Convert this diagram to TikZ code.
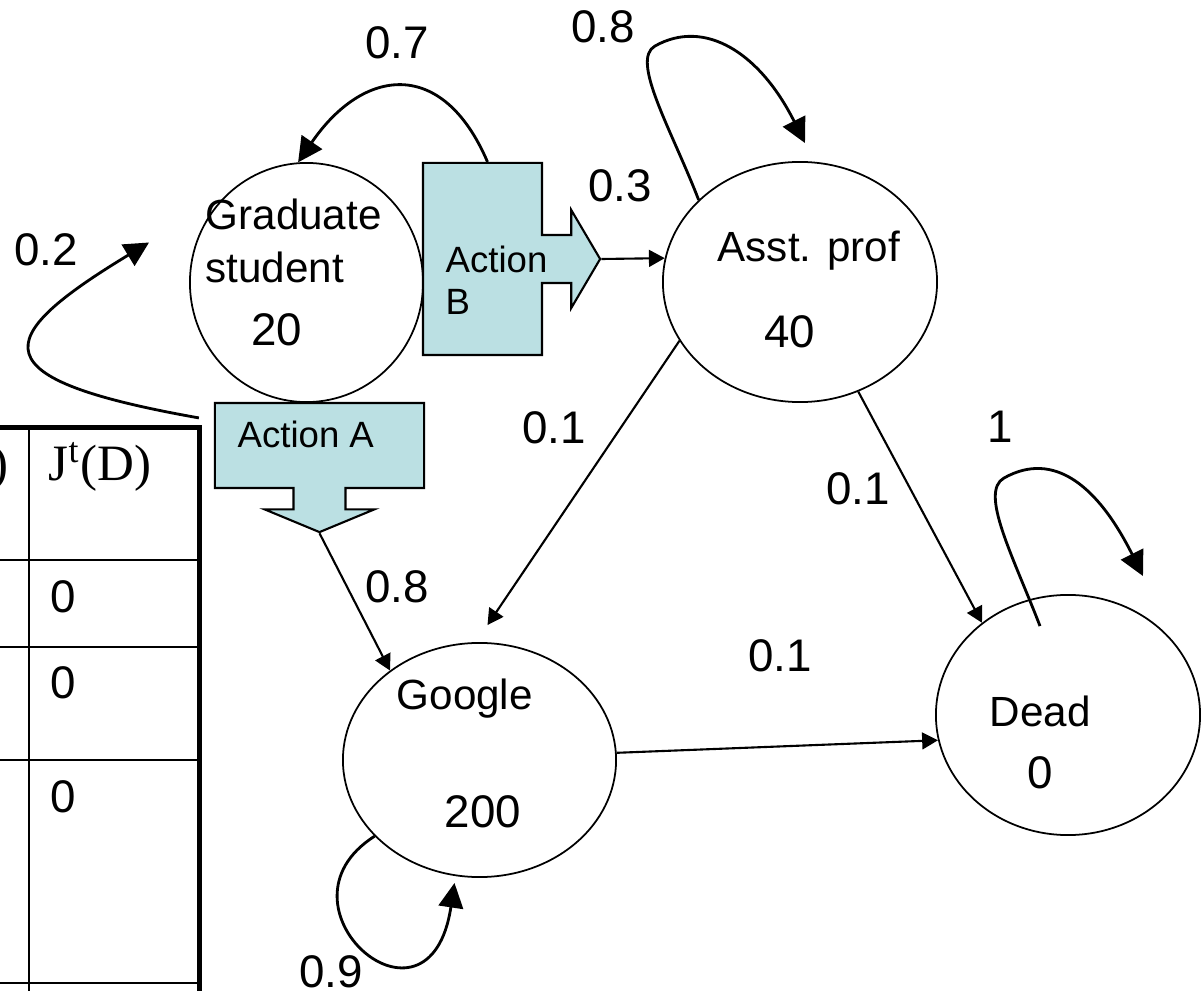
\documentclass[tikz,border=0pt]{standalone}
\usepackage{fontspec}
\setmainfont{Liberation Sans}
\newfontfamily\tabfont{Liberation Serif}
\usetikzlibrary{arrows.meta,shapes.geometric,shapes.arrows}
\definecolor{actfill}{HTML}{BBE0E3}
\tikzset{
  state/.style={draw, ellipse, line width=0.5pt, inner sep=0pt},
  actbox/.style={draw, arrow box, fill=actfill, line width=0.6pt, inner sep=0pt},
  nametext/.style={inner sep=0pt, font=\fontsize{12}{14}\selectfont},
  numtext/.style={inner sep=0pt, font=\fontsize{13}{15}\selectfont},
  acttext/.style={inner sep=0pt, font=\fontsize{10.4}{12}\selectfont},
  headtext/.style={inner sep=0pt, font=\tabfont\fontsize{14.5}{16}\selectfont},
  edge/.style={-{Triangle[length=4.5pt, width=4.8pt]}, line width=0.6pt},
  loopedge/.style={-{Triangle[length=7pt, width=7pt]}, line width=0.8pt},
  tabline/.style={line width=0.5pt},
  tabborder/.style={line width=1.4pt}
}
\begin{document}
\begin{tikzpicture}[x=0.01cm, y=-0.01cm]
\useasboundingbox (0,0) rectangle (1202,991);

% table (cut off at the left)
\draw[tabline] (-10,560) -- (199,560);
\draw[tabline] (-10,647) -- (199,647);
\draw[tabline] (-10,760) -- (199,760);
\draw[tabline] (-10,983) -- (199,983);
\draw[tabline] (29,427) -- (29,1000);
\draw[tabborder] (-10,427.5) -- (199.5,427.5) -- (199.5,1000);
\node[headtext, anchor=base east] (hdprev) at (9,481) {)};
\node[headtext, anchor=base west] (hdD) at (48,481) {J\textsuperscript{t}(D)};
\node[numtext] (d1) at (63,597) {0};
\node[numtext] (d2) at (63,683) {0};
\node[numtext] (d3) at (63,797) {0};

% states
\node[state, minimum width=2.33cm, minimum height=2.39cm] (gs) at (306.5,282.5) {};
\node[state, minimum width=2.74cm, minimum height=2.40cm] (asst) at (800,282) {};
\node[state, minimum width=2.73cm, minimum height=2.34cm] (google) at (479.5,760) {};
\node[state, minimum width=2.64cm, minimum height=2.40cm] (dead) at (1068,715) {};
\node[nametext, anchor=base west] (gsl1) at (205,230) {Graduate};
\node[nametext, anchor=base west] (gsl2) at (205,283) {student};
\node[numtext] (gsv) at (277,330) {20};
\node[nametext, anchor=base west] (asstl) at (717,262) {Asst. prof};
\node[numtext] (asstv) at (790,332) {40};
\node[nametext, anchor=base west] (googlel) at (396,710) {Google};
\node[numtext] (googlev) at (483,812) {200};
\node[nametext, anchor=base west] (deadl) at (989,726) {Dead};
\node[numtext] (deadv) at (1040,773) {0};

% actions
\node[actbox, arrow box arrows={east:0.57cm}, arrow box shaft width=0.48cm,
  arrow box head extend=0.25cm, arrow box tip angle=119,
  minimum width=1.19cm, minimum height=1.92cm] (actB) at (482.5,259) {};
\node[actbox, arrow box arrows={south:0.43cm}, arrow box shaft width=0.52cm,
  arrow box head extend=0.29cm, arrow box tip angle=135,
  minimum width=2.09cm, minimum height=0.85cm] (actA) at (319.5,445.5) {};
\node[acttext, anchor=base west] (actBl1) at (445,273) {Action};
\node[acttext, anchor=base west] (actBl2) at (445,315) {B};
\node[acttext, anchor=base west] (actAl) at (237,448) {Action A};

% transitions
\draw[loopedge] ([shift={(5,0)}]actB.north) .. controls +(-45,-105) and +(65,-95) .. (gs.94);
\draw[loopedge] ([shift={(-15,16)}]actA.north west) .. controls +(-220,-39) and +(-160,97) .. ([shift={(-40,-40)}]gs.west);
\draw[edge] (actB.east arrow tip) -- (asst.170);
\draw[edge] (actA.south arrow tip) -- (google.135);
\draw[loopedge] (asst.141) .. controls +(-27,-70) and +(-25,14) .. (655,46)
  .. controls +(50,-28) and +(-45,-90) .. ([shift={(5,-18)}]asst.north);
\draw[edge] (asst.206) -- ([shift={(8,-17)}]google.north);
\draw[edge] (asst.298) -- (dead.133);
\draw[edge] (google.3) -- (dead.191);
\draw[loopedge] (google.216) .. controls +(-110,70) and +(-25,167) .. ([shift={(-25,123)}]google.center);
\draw[loopedge] ([shift={(-28,32)}]dead.north) .. controls +(-27,-70) and +(-25,14) .. (1004,478)
  .. controls +(50,-28) and +(-45,-90) .. ([shift={(75,-18)}]dead.north);

% probabilities
\node[numtext] (p07) at (397,43) {0.7};
\node[numtext] (p08a) at (603,27) {0.8};
\node[numtext] (p03) at (620,186) {0.3};
\node[numtext] (p02) at (46,250) {0.2};
\node[numtext] (p01a) at (554,428) {0.1};
\node[numtext] (p01b) at (858,489) {0.1};
\node[numtext] (p1) at (1000,427) {1};
\node[numtext] (p08b) at (397,587) {0.8};
\node[numtext] (p01c) at (780,656) {0.1};
\node[numtext] (p09) at (331,972) {0.9};
\end{tikzpicture}
\end{document}
